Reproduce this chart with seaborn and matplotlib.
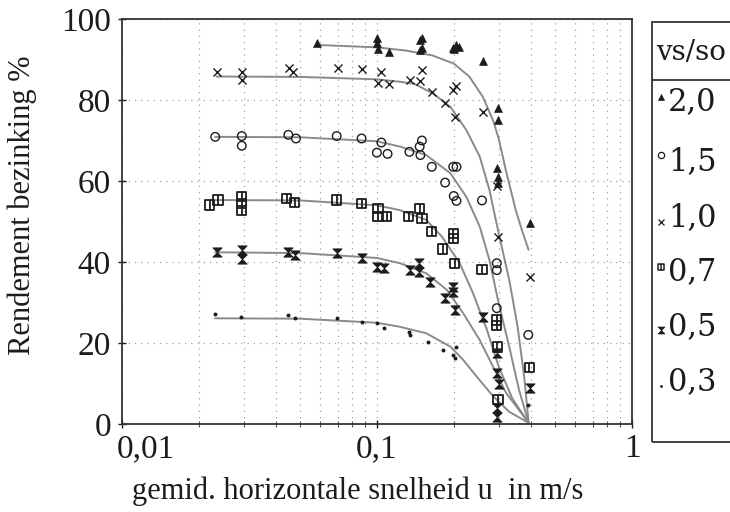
import numpy as np
import pandas as pd
import matplotlib
matplotlib.use("Agg")
import matplotlib.pyplot as plt
import matplotlib.transforms as mtransforms
import seaborn as sns
from matplotlib.path import Path
from matplotlib.patches import Rectangle
from matplotlib.lines import Line2D
from matplotlib.ticker import FixedLocator, NullFormatter

# ---------------- data ----------------
series_labels = ["2,0", "1,5", "1,0", "0,7", "0,5", "0,3"]

u_20 = [0.058, 0.100, 0.100, 0.101, 0.111, 0.147, 0.150, 0.150, 0.147, 0.198, 0.205, 0.200, 0.210,
        0.260, 0.298, 0.298, 0.295, 0.298, 0.298, 0.397]
r_20 = [94.0, 95.2, 94.0, 92.5, 91.9, 94.8, 95.2, 92.8, 92.3, 92.8, 93.6, 92.5, 93.2,
        89.7, 78.0, 75.1, 63.1, 61.1, 59.4, 49.7]

u_15 = [0.0232, 0.0295, 0.0295, 0.0449, 0.0481, 0.0695, 0.087, 0.104, 0.0999, 0.110, 0.150, 0.134,
        0.147, 0.148, 0.164, 0.199, 0.205, 0.185, 0.200, 0.205, 0.258, 0.295, 0.295, 0.295, 0.392]
r_15 = [70.9, 71.1, 68.7, 71.4, 70.5, 71.1, 70.5, 69.5, 67.0, 66.7, 70.0, 67.2,
        68.5, 66.4, 63.5, 63.5, 63.5, 59.6, 56.3, 55.1, 55.2, 39.7, 38.0, 28.6, 22.0]

u_10 = [0.0235, 0.0295, 0.0295, 0.0450, 0.0470, 0.0703, 0.0873, 0.104, 0.101, 0.111, 0.150, 0.135,
        0.147, 0.164, 0.205, 0.199, 0.185, 0.203, 0.260, 0.295, 0.298, 0.397]
r_10 = [87.0, 86.9, 84.9, 88.0, 87.0, 88.0, 87.6, 87.0, 84.1, 84.0, 87.4, 84.9,
        84.8, 82.0, 83.5, 82.5, 79.3, 75.7, 77.1, 58.8, 46.2, 36.4]

u_07 = [0.0221, 0.0238, 0.0295, 0.0295, 0.0295, 0.0442, 0.0476, 0.0695, 0.087, 0.101, 0.101, 0.109,
        0.133, 0.147, 0.150, 0.164, 0.199, 0.199, 0.181, 0.202, 0.258, 0.295, 0.295, 0.296, 0.298, 0.395]
r_07 = [54.1, 55.3, 56.1, 54.5, 52.8, 55.7, 54.6, 55.3, 54.5, 53.3, 51.2, 51.2,
        51.2, 53.3, 50.8, 47.5, 47.1, 45.8, 43.2, 39.7, 38.2, 25.7, 24.4, 19.0, 6.0, 14.0]

u_05 = [0.0235, 0.0295, 0.0295, 0.0449, 0.0476, 0.0695, 0.087, 0.100, 0.107, 0.135, 0.146, 0.146,
        0.161, 0.199, 0.199, 0.185, 0.202, 0.260, 0.295, 0.295, 0.300, 0.295, 0.295, 0.397]
r_05 = [42.5, 43.0, 40.7, 42.5, 41.7, 42.1, 40.9, 38.8, 38.4, 38.0, 39.7, 37.6,
        35.1, 33.9, 32.7, 31.0, 28.1, 26.5, 17.5, 12.5, 10.0, 3.9, 1.8, 9.0]

u_03 = [0.0232, 0.0292, 0.0449, 0.0476, 0.0695, 0.087, 0.100, 0.107, 0.133, 0.135, 0.158,
        0.181, 0.199, 0.202, 0.205, 0.390]
r_03 = [27.1, 26.5, 26.9, 26.2, 26.1, 25.3, 24.9, 23.6, 22.6, 22.0, 20.3,
        18.3, 17.0, 16.2, 19.1, 4.7]

# fitted curves
cu_20 = [0.058, 0.100, 0.130, 0.165, 0.200, 0.230, 0.260, 0.285, 0.300, 0.320, 0.350, 0.370, 0.393]
cr_20 = [93.6, 93.0, 92.2, 91.0, 89.0, 85.8, 80.8, 75.0, 70.5, 62.7, 52.8, 47.9, 43.0]
cu_15 = [0.0232, 0.050, 0.100, 0.123, 0.156, 0.194, 0.224, 0.253, 0.276, 0.300, 0.330, 0.360, 0.393]
cr_15 = [70.9, 70.8, 69.8, 68.5, 66.4, 61.9, 56.1, 48.7, 40.5, 29.8, 19.1, 8.6, 0.3]
cu_10 = [0.0235, 0.050, 0.100, 0.123, 0.140, 0.166, 0.194, 0.224, 0.253, 0.276, 0.300, 0.330, 0.356, 0.378, 0.393]
cr_10 = [85.8, 85.7, 85.1, 84.5, 84.0, 81.6, 78.3, 72.6, 66.0, 57.8, 47.1, 35.6, 24.0, 11.5, 0.5]
cu_07 = [0.0232, 0.050, 0.100, 0.123, 0.156, 0.180, 0.211, 0.238, 0.270, 0.300, 0.340, 0.393]
cr_07 = [55.3, 55.2, 54.0, 52.8, 50.4, 46.2, 39.7, 32.3, 23.2, 14.2, 6.2, 0.3]
cu_05 = [0.0232, 0.050, 0.100, 0.123, 0.156, 0.188, 0.218, 0.253, 0.285, 0.320, 0.393]
cr_05 = [42.4, 42.2, 41.0, 39.7, 37.2, 33.1, 27.3, 20.7, 14.2, 7.8, 0.3]
cu_03 = [0.0232, 0.050, 0.100, 0.123, 0.156, 0.194, 0.218, 0.246, 0.285, 0.330, 0.393]
cr_03 = [26.1, 26.0, 25.0, 24.0, 22.4, 19.1, 15.8, 11.7, 6.9, 3.0, 0.3]

x_ticks = [0.01, 0.1, 1]
x_ticklabels = ["0,01", "0,1", "1"]
y_ticks = [0, 20, 40, 60, 80, 100]

# ---------------- style ----------------
sns.set_style("white")
plt.rcParams["font.family"] = ["Liberation Serif", "DejaVu Serif"]

INK = "#1c1c1c"
LINE = "#8a8a8a"
FS_LAB = 22
FS_TICK = 24
FS_LEG = 22
FS_LEG_TITLE = 20
LEG_FONT = ["DejaVu Serif"]

hourglass = Path([(-1, 1), (1, 1), (-1, -1), (1, -1), (-1, 1)],
                 [Path.MOVETO, Path.LINETO, Path.LINETO, Path.LINETO, Path.CLOSEPOLY])
split_sq = Path([(-1, -1), (1, -1), (1, 1), (-1, 1), (-1, -1), (0, -1), (0, 1)],
                [Path.MOVETO, Path.LINETO, Path.LINETO, Path.LINETO, Path.CLOSEPOLY,
                 Path.MOVETO, Path.LINETO])

W, H = 730, 512
fig = plt.figure(figsize=(W / 100, H / 100), dpi=100)
ax = fig.add_axes([122 / W, (H - 424) / H, 510 / W, 405 / H])

# curves
for cu, cr in [(cu_20, cr_20), (cu_15, cr_15), (cu_10, cr_10),
               (cu_07, cr_07), (cu_05, cr_05), (cu_03, cr_03)]:
    sns.lineplot(x=cu, y=cr, sort=False, estimator=None, color=LINE, lw=1.4, ax=ax, zorder=2)

# points
sns.scatterplot(x=u_20, y=r_20, marker="^", s=32, color=INK, edgecolor=INK, linewidth=0.5, ax=ax, zorder=3)
sns.scatterplot(x=u_15, y=r_15, marker="o", s=38, color=INK, facecolor="none", edgecolor=INK, linewidth=1.0, ax=ax, zorder=3)
sns.scatterplot(x=u_10, y=r_10, marker="x", s=34, color=INK, linewidth=1.0, ax=ax, zorder=3)
sns.scatterplot(x=u_07, y=r_07, marker=split_sq, s=44, color=INK, facecolor="none", edgecolor=INK, linewidth=1.3, ax=ax, zorder=3)
sns.scatterplot(x=u_05, y=r_05, marker=hourglass, s=44, color=INK, edgecolor=INK, linewidth=0.6, ax=ax, zorder=3)
sns.scatterplot(x=u_03, y=r_03, marker="o", s=8, color=INK, edgecolor=INK, linewidth=0, ax=ax, zorder=3)

# axes
ax.set_xscale("log")
ax.set_xlim(0.01, 1)
ax.set_ylim(0, 100)
ax.set_xticks(x_ticks)
ax.set_xticklabels(x_ticklabels)
ax.xaxis.set_minor_locator(FixedLocator([m * d for d in (0.01, 0.1) for m in range(2, 10)]))
ax.xaxis.set_minor_formatter(NullFormatter())
ax.set_yticks(y_ticks)
ax.set_yticklabels([str(v) for v in y_ticks])
ax.tick_params(axis="both", which="major", direction="inout", length=6, width=1.0,
               colors=INK, labelsize=FS_TICK, left=True, bottom=True)
ax.tick_params(axis="x", which="major", pad=4)
ax.tick_params(axis="y", which="major", pad=5)
ax.tick_params(axis="x", which="minor", direction="inout", length=4, width=0.8, colors="#555", bottom=True)

# first x label sits to the right of its tick, as in the reference
first = ax.get_xticklabels()[0]
first.set_horizontalalignment("left")
first.set_transform(first.get_transform() + mtransforms.ScaledTranslation(-5 / 100, 0, fig.dpi_scale_trans))

ax.grid(True, which="major", axis="y", color="#a0a0a0", linestyle=(0, (1, 4)), linewidth=0.9)
ax.grid(True, which="both", axis="x", color="#a0a0a0", linestyle=(0, (1, 4)), linewidth=0.9)
for sp in ax.spines.values():
    sp.set_color("#333333")
    sp.set_linewidth(1.3)

ax.set_xlabel("gemid. horizontale snelheid u  in m/s", fontsize=FS_LAB, color=INK, va="center")
ax.xaxis.set_label_coords((358 - 122) / 510, (424 - 491) / 405)
ax.set_ylabel("Rendement bezinking %", fontsize=FS_LAB, color=INK, va="center")
ax.yaxis.set_label_coords((22 - 122) / 510, (424 - 205) / 405)

# legend box (cut off at the right edge, as in the reference)
def fx(px):
    return px / W

def fy(py):
    return 1 - py / H

fig.add_artist(Rectangle((fx(652), fy(442)), fx(140), fy(22) - fy(442), transform=fig.transFigure,
                         fill=False, edgecolor="#333333", linewidth=1.3))
fig.add_artist(Line2D([fx(652), fx(740)], [fy(80), fy(80)], transform=fig.transFigure,
                      color="#333333", linewidth=1.3))
fig.text(fx(656), fy(53), "vs/so", fontsize=FS_LEG_TITLE, family=LEG_FONT, color=INK, ha="left", va="center")

leg_markers = [dict(marker="^", ms=4.5, mfc=INK, mec=INK, mew=0.5),
               dict(marker="o", ms=4.5, mfc="none", mec=INK, mew=0.9),
               dict(marker="x", ms=4.5, mec=INK, mew=0.9),
               dict(marker=split_sq, ms=5, mfc="none", mec=INK, mew=1.1),
               dict(marker=hourglass, ms=5, mfc=INK, mec=INK, mew=0.5),
               dict(marker="o", ms=2.0, mfc=INK, mec=INK, mew=0)]
leg_y = [102, 162, 218, 272, 327, 382]
leg_mark_dy = [-5, -7, 4, -5, 3, 4]
for lab, mk, yy, dy in zip(series_labels, leg_markers, leg_y, leg_mark_dy):
    fig.add_artist(Line2D([fx(661)], [fy(yy + dy)], transform=fig.transFigure, linestyle="none", **mk))
    fig.text(fx(668), fy(yy), lab, fontsize=FS_LEG, family=LEG_FONT, color=INK, ha="left", va="center")

fig.savefig("out.png", dpi=100)
